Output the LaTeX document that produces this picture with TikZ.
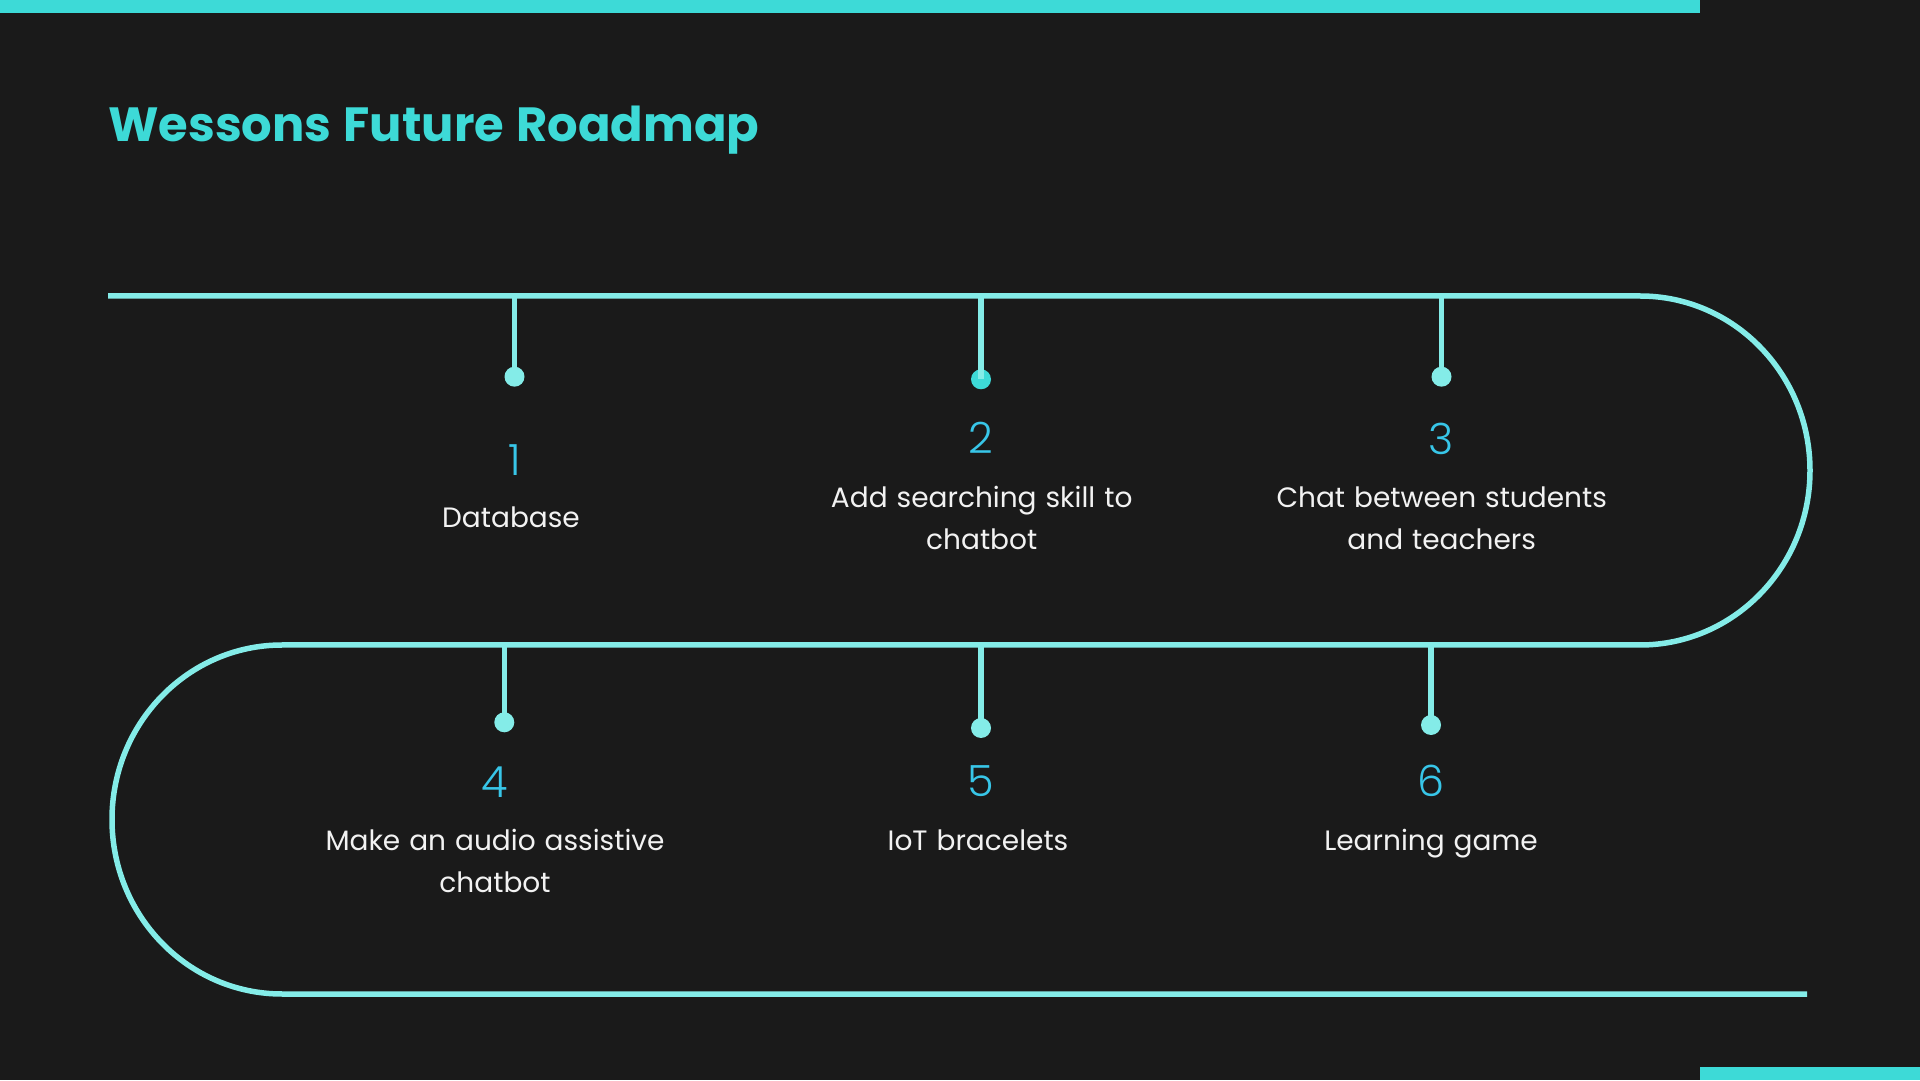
\documentclass[tikz,border=0pt]{standalone}
\usepackage{fontspec}
\setmainfont{Poppins}[WordSpace = 1.2]
\newfontfamily\numfont{Poppins Light}
\definecolor{bgcol}{HTML}{1A1A1A}
\definecolor{barcol}{HTML}{3DDAD7}
\definecolor{roadcol}{HTML}{84ECE8}
\definecolor{numcol}{HTML}{38C6E8}
\definecolor{txtcol}{HTML}{F2F2F2}
\tikzset{
  road/.style = {draw = roadcol, line width = 5.5pt},
  stem/.style = {draw = roadcol, line width = 5.3pt},
  dot/.style = {circle, inner sep = 0pt, minimum size = 20pt},
  num/.style = {text = numcol, font = \numfont\fontsize{43}{43}\selectfont},
  itemtext/.style = {text = txtcol, align = center, anchor = base,
    font = \fontsize{28}{42}\selectfont}
}
\begin{document}
\begin{tikzpicture}
      [x = 1pt, y = 1pt]
      \fill[bgcol] (0,0) rectangle (1920,1080);
      \useasboundingbox (0,0) rectangle (1920,1080);
      % bars and title
      \fill[barcol] (0,1067) rectangle (1700,1080);
      \fill[barcol] (1700,0) rectangle (1920,13);
      \node[anchor = base west, inner sep = 0pt, text = barcol,
        font = \bfseries\fontsize{48}{48}\selectfont] (title) at (108,938.3)
        {Wessons Future Roadmap};
      % the road
      \draw[road] (108,784) -- (1640,784) arc (90:-90:170 and 174.5)
        -- (282,435) arc (90:270:170 and 174.5) -- (1807,86);
      % stems, dots, numbers and texts
      \foreach \n/\x/\y/\dy/\c in {1/514.5/784/703.3/roadcol,
          2/981/784/700.7/barcol, 3/1441.5/784/703.3/roadcol,
          4/504.3/435/357.7/roadcol, 5/981/435/352/roadcol,
          6/1431/435/355/roadcol}
        {
        \coordinate (t\n) at (\x,\y);
        \node[dot, fill = \c] (d\n) at (\x,\dy) {};
        \draw[stem] (t\n) -- (d\n.center);
        }
      \foreach \n/\x/\y in {1/514.5/620.3, 2/981/642, 3/1441.5/641.3,
          4/495/298.3, 5/981/299, 6/1431/299}
        \node[num] (n\n) at (\x,\y) {\n};
      % base is the last line of the text
      \node[itemtext] (s1) at (511,552.7) {Database};
      \node[itemtext] (s2) at (981.7,530.7) {Add searching skill to\\chatbot};
      \node[itemtext] (s3) at (1441.7,530) {Chat between students\\and teachers};
      \node[itemtext] (s4) at (495,187.3) {Make an audio assistive\\chatbot};
      \node[itemtext] (s5) at (978,230) {IoT bracelets};
      \node[itemtext] (s6) at (1431,230) {Learning game};
      \end{tikzpicture}
\end{document}
